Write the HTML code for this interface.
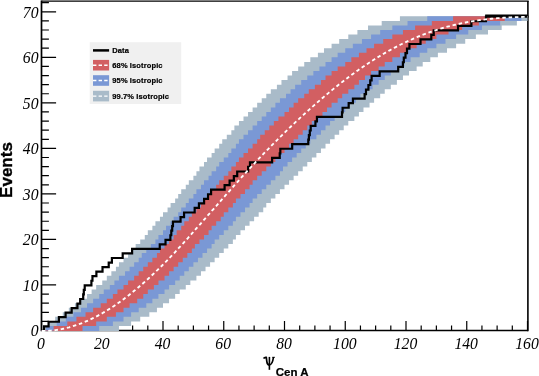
<!DOCTYPE html>
<html><head><meta charset="utf-8"><title>chart</title>
<style>html,body{margin:0;padding:0;background:#fff;}body{width:539px;height:376px;position:relative;overflow:hidden;font-family:"Liberation Sans",sans-serif;}</style></head>
<body>
<svg width="539" height="376" viewBox="0 0 539 376" style="position:absolute;left:0;top:0;will-change:transform;opacity:0.9999">
<rect width="539" height="376" fill="#fff"/>
<g stroke="#000" fill="none">
<path d="M41.50,0.40 V330.50 H527.90" stroke-width="1.70"/>
<path d="M41.50,1.05 H528.70" stroke-width="1.30"/>
<path d="M527.90,1.05 V331.35" stroke-width="1.60"/>
<path d="M41.50,330.50 v-9.50 M56.69,330.50 v-4.90 M71.88,330.50 v-4.90 M87.06,330.50 v-4.90 M102.25,330.50 v-9.50 M117.44,330.50 v-4.90 M132.62,330.50 v-4.90 M147.81,330.50 v-4.90 M163.00,330.50 v-9.50 M178.19,330.50 v-4.90 M193.38,330.50 v-4.90 M208.56,330.50 v-4.90 M223.75,330.50 v-9.50 M238.94,330.50 v-4.90 M254.12,330.50 v-4.90 M269.31,330.50 v-4.90 M284.50,330.50 v-9.50 M299.69,330.50 v-4.90 M314.88,330.50 v-4.90 M330.06,330.50 v-4.90 M345.25,330.50 v-9.50 M360.44,330.50 v-4.90 M375.62,330.50 v-4.90 M390.81,330.50 v-4.90 M406.00,330.50 v-9.50 M421.19,330.50 v-4.90 M436.38,330.50 v-4.90 M451.56,330.50 v-4.90 M466.75,330.50 v-9.50 M481.94,330.50 v-4.90 M497.12,330.50 v-4.90 M512.31,330.50 v-4.90 M527.50,330.50 v-9.50 M41.50,330.50 h14.60 M41.50,321.39 h7.40 M41.50,312.29 h7.40 M41.50,303.18 h7.40 M41.50,294.08 h7.40 M41.50,284.97 h14.60 M41.50,275.87 h7.40 M41.50,266.76 h7.40 M41.50,257.65 h7.40 M41.50,248.55 h7.40 M41.50,239.44 h14.60 M41.50,230.34 h7.40 M41.50,221.23 h7.40 M41.50,212.13 h7.40 M41.50,203.02 h7.40 M41.50,193.91 h14.60 M41.50,184.81 h7.40 M41.50,175.70 h7.40 M41.50,166.60 h7.40 M41.50,157.49 h7.40 M41.50,148.39 h14.60 M41.50,139.28 h7.40 M41.50,130.17 h7.40 M41.50,121.07 h7.40 M41.50,111.96 h7.40 M41.50,102.86 h14.60 M41.50,93.75 h7.40 M41.50,84.65 h7.40 M41.50,75.54 h7.40 M41.50,66.43 h7.40 M41.50,57.33 h14.60 M41.50,48.22 h7.40 M41.50,39.12 h7.40 M41.50,30.01 h7.40 M41.50,20.91 h7.40 M41.50,11.80 h14.60 M41.50,2.69 h7.40 " stroke-width="1.20"/>
</g>
<polygon points="41.50,330.50 43.02,330.50 43.02,325.95 49.09,325.95 49.09,321.39 55.17,321.39 55.17,316.84 62.76,316.84 62.76,312.29 68.84,312.29 68.84,307.74 74.91,307.74 74.91,303.18 80.99,303.18 80.99,298.63 87.06,298.63 87.06,294.08 91.62,294.08 91.62,289.52 96.17,289.52 96.17,284.97 102.25,284.97 102.25,280.42 106.81,280.42 106.81,275.87 111.36,275.87 111.36,271.31 115.92,271.31 115.92,266.76 118.96,266.76 118.96,262.21 123.51,262.21 123.51,257.65 128.07,257.65 128.07,253.10 132.62,253.10 132.62,248.55 135.66,248.55 135.66,244.00 140.22,244.00 140.22,239.44 144.78,239.44 144.78,234.89 147.81,234.89 147.81,230.34 152.37,230.34 152.37,225.78 155.41,225.78 155.41,221.23 159.96,221.23 159.96,216.68 163.00,216.68 163.00,212.13 167.56,212.13 167.56,207.57 170.59,207.57 170.59,203.02 175.15,203.02 175.15,198.47 178.19,198.47 178.19,193.91 181.22,193.91 181.22,189.36 185.78,189.36 185.78,184.81 188.82,184.81 188.82,180.26 193.38,180.26 193.38,175.70 196.41,175.70 196.41,171.15 199.45,171.15 199.45,166.60 204.01,166.60 204.01,162.04 207.04,162.04 207.04,157.49 211.60,157.49 211.60,152.94 214.64,152.94 214.64,148.39 219.19,148.39 219.19,143.83 222.23,143.83 222.23,139.28 226.79,139.28 226.79,134.73 231.34,134.73 231.34,130.17 234.38,130.17 234.38,125.62 238.94,125.62 238.94,121.07 243.49,121.07 243.49,116.52 248.05,116.52 248.05,111.96 252.61,111.96 252.61,107.41 257.16,107.41 257.16,102.86 261.72,102.86 261.72,98.30 266.27,98.30 266.27,93.75 270.83,93.75 270.83,89.20 276.91,89.20 276.91,84.65 281.46,84.65 281.46,80.09 287.54,80.09 287.54,75.54 292.09,75.54 292.09,70.99 298.17,70.99 298.17,66.43 304.24,66.43 304.24,61.88 310.32,61.88 310.32,57.33 317.91,57.33 317.91,52.78 323.99,52.78 323.99,48.22 331.58,48.22 331.58,43.67 339.18,43.67 339.18,39.12 348.29,39.12 348.29,34.56 357.40,34.56 357.40,30.01 368.03,30.01 368.03,25.46 381.70,25.46 381.70,20.91 399.93,20.91 399.93,16.35 527.50,16.35 527.50,20.91 516.87,20.91 516.87,25.46 501.68,25.46 501.68,30.01 488.01,30.01 488.01,34.56 475.86,34.56 475.86,39.12 465.23,39.12 465.23,43.67 456.12,43.67 456.12,48.22 447.01,48.22 447.01,52.78 437.89,52.78 437.89,57.33 430.30,57.33 430.30,61.88 422.71,61.88 422.71,66.43 416.63,66.43 416.63,70.99 409.04,70.99 409.04,75.54 402.96,75.54 402.96,80.09 396.89,80.09 396.89,84.65 390.81,84.65 390.81,89.20 384.74,89.20 384.74,93.75 380.18,93.75 380.18,98.30 374.11,98.30 374.11,102.86 369.55,102.86 369.55,107.41 363.48,107.41 363.48,111.96 358.92,111.96 358.92,116.52 354.36,116.52 354.36,121.07 348.29,121.07 348.29,125.62 343.73,125.62 343.73,130.17 339.18,130.17 339.18,134.73 334.62,134.73 334.62,139.28 330.06,139.28 330.06,143.83 325.51,143.83 325.51,148.39 320.95,148.39 320.95,152.94 316.39,152.94 316.39,157.49 311.84,157.49 311.84,162.04 307.28,162.04 307.28,166.60 302.73,166.60 302.73,171.15 298.17,171.15 298.17,175.70 293.61,175.70 293.61,180.26 289.06,180.26 289.06,184.81 284.50,184.81 284.50,189.36 279.94,189.36 279.94,193.91 275.39,193.91 275.39,198.47 270.83,198.47 270.83,203.02 266.27,203.02 266.27,207.57 263.24,207.57 263.24,212.13 258.68,212.13 258.68,216.68 254.12,216.68 254.12,221.23 249.57,221.23 249.57,225.78 245.01,225.78 245.01,230.34 240.46,230.34 240.46,234.89 235.90,234.89 235.90,239.44 232.86,239.44 232.86,244.00 228.31,244.00 228.31,248.55 223.75,248.55 223.75,253.10 219.19,253.10 219.19,257.65 214.64,257.65 214.64,262.21 210.08,262.21 210.08,266.76 205.53,266.76 205.53,271.31 200.97,271.31 200.97,275.87 196.41,275.87 196.41,280.42 190.34,280.42 190.34,284.97 185.78,284.97 185.78,289.52 179.71,289.52 179.71,294.08 175.15,294.08 175.15,298.63 169.07,298.63 169.07,303.18 163.00,303.18 163.00,307.74 156.93,307.74 156.93,312.29 149.33,312.29 149.33,316.84 140.22,316.84 140.22,321.39 131.11,321.39 131.11,325.95 118.96,325.95 118.96,331.10 41.50,331.10" fill="#a9bbc9"/>
<polygon points="41.50,330.50 46.06,330.50 46.06,325.95 56.69,325.95 56.69,321.39 65.80,321.39 65.80,316.84 73.39,316.84 73.39,312.29 80.99,312.29 80.99,307.74 87.06,307.74 87.06,303.18 93.14,303.18 93.14,298.63 99.21,298.63 99.21,294.08 103.77,294.08 103.77,289.52 109.84,289.52 109.84,284.97 114.40,284.97 114.40,280.42 118.96,280.42 118.96,275.87 125.03,275.87 125.03,271.31 129.59,271.31 129.59,266.76 134.14,266.76 134.14,262.21 138.70,262.21 138.70,257.65 141.74,257.65 141.74,253.10 146.29,253.10 146.29,248.55 150.85,248.55 150.85,244.00 155.41,244.00 155.41,239.44 158.44,239.44 158.44,234.89 163.00,234.89 163.00,230.34 166.04,230.34 166.04,225.78 170.59,225.78 170.59,221.23 173.63,221.23 173.63,216.68 178.19,216.68 178.19,212.13 181.22,212.13 181.22,207.57 185.78,207.57 185.78,203.02 188.82,203.02 188.82,198.47 193.38,198.47 193.38,193.91 196.41,193.91 196.41,189.36 200.97,189.36 200.97,184.81 204.01,184.81 204.01,180.26 208.56,180.26 208.56,175.70 211.60,175.70 211.60,171.15 216.16,171.15 216.16,166.60 219.19,166.60 219.19,162.04 223.75,162.04 223.75,157.49 228.31,157.49 228.31,152.94 231.34,152.94 231.34,148.39 235.90,148.39 235.90,143.83 238.94,143.83 238.94,139.28 243.49,139.28 243.49,134.73 248.05,134.73 248.05,130.17 252.61,130.17 252.61,125.62 257.16,125.62 257.16,121.07 261.72,121.07 261.72,116.52 266.27,116.52 266.27,111.96 270.83,111.96 270.83,107.41 275.39,107.41 275.39,102.86 279.94,102.86 279.94,98.30 286.02,98.30 286.02,93.75 290.57,93.75 290.57,89.20 295.13,89.20 295.13,84.65 301.21,84.65 301.21,80.09 307.28,80.09 307.28,75.54 313.36,75.54 313.36,70.99 319.43,70.99 319.43,66.43 325.51,66.43 325.51,61.88 331.58,61.88 331.58,57.33 337.66,57.33 337.66,52.78 345.25,52.78 345.25,48.22 352.84,48.22 352.84,43.67 361.96,43.67 361.96,39.12 371.07,39.12 371.07,34.56 380.18,34.56 380.18,30.01 392.33,30.01 392.33,25.46 407.52,25.46 407.52,20.91 427.26,20.91 427.26,16.35 521.42,16.35 521.42,20.91 500.16,20.91 500.16,25.46 481.94,25.46 481.94,30.01 468.27,30.01 468.27,34.56 456.12,34.56 456.12,39.12 445.49,39.12 445.49,43.67 436.38,43.67 436.38,48.22 427.26,48.22 427.26,52.78 419.67,52.78 419.67,57.33 410.56,57.33 410.56,61.88 404.48,61.88 404.48,66.43 396.89,66.43 396.89,70.99 390.81,70.99 390.81,75.54 384.74,75.54 384.74,80.09 378.66,80.09 378.66,84.65 372.59,84.65 372.59,89.20 366.51,89.20 366.51,93.75 360.44,93.75 360.44,98.30 355.88,98.30 355.88,102.86 349.81,102.86 349.81,107.41 345.25,107.41 345.25,111.96 340.69,111.96 340.69,116.52 334.62,116.52 334.62,121.07 330.06,121.07 330.06,125.62 325.51,125.62 325.51,130.17 320.95,130.17 320.95,134.73 316.39,134.73 316.39,139.28 310.32,139.28 310.32,143.83 305.76,143.83 305.76,148.39 301.21,148.39 301.21,152.94 296.65,152.94 296.65,157.49 292.09,157.49 292.09,162.04 287.54,162.04 287.54,166.60 282.98,166.60 282.98,171.15 279.94,171.15 279.94,175.70 275.39,175.70 275.39,180.26 270.83,180.26 270.83,184.81 266.27,184.81 266.27,189.36 261.72,189.36 261.72,193.91 257.16,193.91 257.16,198.47 252.61,198.47 252.61,203.02 249.57,203.02 249.57,207.57 245.01,207.57 245.01,212.13 240.46,212.13 240.46,216.68 235.90,216.68 235.90,221.23 232.86,221.23 232.86,225.78 228.31,225.78 228.31,230.34 223.75,230.34 223.75,234.89 219.19,234.89 219.19,239.44 214.64,239.44 214.64,244.00 211.60,244.00 211.60,248.55 207.04,248.55 207.04,253.10 202.49,253.10 202.49,257.65 197.93,257.65 197.93,262.21 193.38,262.21 193.38,266.76 188.82,266.76 188.82,271.31 184.26,271.31 184.26,275.87 179.71,275.87 179.71,280.42 175.15,280.42 175.15,284.97 169.07,284.97 169.07,289.52 164.52,289.52 164.52,294.08 158.44,294.08 158.44,298.63 152.37,298.63 152.37,303.18 146.29,303.18 146.29,307.74 138.70,307.74 138.70,312.29 131.11,312.29 131.11,316.84 123.51,316.84 123.51,321.39 112.88,321.39 112.88,325.95 99.21,325.95 99.21,331.10 41.50,331.10" fill="#7a98d5"/>
<polygon points="41.50,330.50 53.65,330.50 53.65,325.95 67.32,325.95 67.32,321.39 76.43,321.39 76.43,316.84 85.54,316.84 85.54,312.29 93.14,312.29 93.14,307.74 100.73,307.74 100.73,303.18 106.81,303.18 106.81,298.63 112.88,298.63 112.88,294.08 117.44,294.08 117.44,289.52 123.51,289.52 123.51,284.97 128.07,284.97 128.07,280.42 134.14,280.42 134.14,275.87 138.70,275.87 138.70,271.31 143.26,271.31 143.26,266.76 147.81,266.76 147.81,262.21 152.37,262.21 152.37,257.65 156.93,257.65 156.93,253.10 159.96,253.10 159.96,248.55 164.52,248.55 164.52,244.00 169.07,244.00 169.07,239.44 173.63,239.44 173.63,234.89 176.67,234.89 176.67,230.34 181.22,230.34 181.22,225.78 184.26,225.78 184.26,221.23 188.82,221.23 188.82,216.68 191.86,216.68 191.86,212.13 196.41,212.13 196.41,207.57 200.97,207.57 200.97,203.02 204.01,203.02 204.01,198.47 208.56,198.47 208.56,193.91 211.60,193.91 211.60,189.36 216.16,189.36 216.16,184.81 219.19,184.81 219.19,180.26 223.75,180.26 223.75,175.70 228.31,175.70 228.31,171.15 231.34,171.15 231.34,166.60 235.90,166.60 235.90,162.04 238.94,162.04 238.94,157.49 243.49,157.49 243.49,152.94 248.05,152.94 248.05,148.39 252.61,148.39 252.61,143.83 257.16,143.83 257.16,139.28 260.20,139.28 260.20,134.73 264.76,134.73 264.76,130.17 269.31,130.17 269.31,125.62 273.87,125.62 273.87,121.07 278.43,121.07 278.43,116.52 284.50,116.52 284.50,111.96 289.06,111.96 289.06,107.41 293.61,107.41 293.61,102.86 298.17,102.86 298.17,98.30 304.24,98.30 304.24,93.75 308.80,93.75 308.80,89.20 314.88,89.20 314.88,84.65 320.95,84.65 320.95,80.09 325.51,80.09 325.51,75.54 331.58,75.54 331.58,70.99 337.66,70.99 337.66,66.43 345.25,66.43 345.25,61.88 351.32,61.88 351.32,57.33 358.92,57.33 358.92,52.78 366.51,52.78 366.51,48.22 374.11,48.22 374.11,43.67 383.22,43.67 383.22,39.12 392.33,39.12 392.33,34.56 402.96,34.56 402.96,30.01 415.11,30.01 415.11,25.46 431.82,25.46 431.82,20.91 453.08,20.91 453.08,16.35 504.72,16.35 504.72,20.91 478.90,20.91 478.90,25.46 462.19,25.46 462.19,30.01 448.52,30.01 448.52,34.56 436.38,34.56 436.38,39.12 425.74,39.12 425.74,43.67 416.63,43.67 416.63,48.22 407.52,48.22 407.52,52.78 399.93,52.78 399.93,57.33 392.33,57.33 392.33,61.88 384.74,61.88 384.74,66.43 378.66,66.43 378.66,70.99 371.07,70.99 371.07,75.54 364.99,75.54 364.99,80.09 358.92,80.09 358.92,84.65 354.36,84.65 354.36,89.20 348.29,89.20 348.29,93.75 342.21,93.75 342.21,98.30 337.66,98.30 337.66,102.86 331.58,102.86 331.58,107.41 327.02,107.41 327.02,111.96 322.47,111.96 322.47,116.52 316.39,116.52 316.39,121.07 311.84,121.07 311.84,125.62 307.28,125.62 307.28,130.17 302.73,130.17 302.73,134.73 298.17,134.73 298.17,139.28 293.61,139.28 293.61,143.83 289.06,143.83 289.06,148.39 284.50,148.39 284.50,152.94 279.94,152.94 279.94,157.49 275.39,157.49 275.39,162.04 270.83,162.04 270.83,166.60 266.27,166.60 266.27,171.15 261.72,171.15 261.72,175.70 257.16,175.70 257.16,180.26 252.61,180.26 252.61,184.81 249.57,184.81 249.57,189.36 245.01,189.36 245.01,193.91 240.46,193.91 240.46,198.47 235.90,198.47 235.90,203.02 232.86,203.02 232.86,207.57 228.31,207.57 228.31,212.13 223.75,212.13 223.75,216.68 220.71,216.68 220.71,221.23 216.16,221.23 216.16,225.78 211.60,225.78 211.60,230.34 208.56,230.34 208.56,234.89 204.01,234.89 204.01,239.44 199.45,239.44 199.45,244.00 194.89,244.00 194.89,248.55 191.86,248.55 191.86,253.10 187.30,253.10 187.30,257.65 182.74,257.65 182.74,262.21 178.19,262.21 178.19,266.76 173.63,266.76 173.63,271.31 169.07,271.31 169.07,275.87 164.52,275.87 164.52,280.42 158.44,280.42 158.44,284.97 153.89,284.97 153.89,289.52 147.81,289.52 147.81,294.08 143.26,294.08 143.26,298.63 137.18,298.63 137.18,303.18 129.59,303.18 129.59,307.74 123.51,307.74 123.51,312.29 115.92,312.29 115.92,316.84 106.81,316.84 106.81,321.39 96.17,321.39 96.17,325.95 82.51,325.95 82.51,331.10 41.50,331.10" fill="#d25f62"/>
<path d="M43.02,330.50 V325.95 H47.58 V321.39 H57.90 V316.84 H64.59 V312.29 H70.66 V307.74 H76.43 V303.18 H79.17 V298.63 H82.20 V294.08 H82.81 V289.52 H83.72 V284.97 H90.40 V280.42 H91.47 V275.87 H95.39 V271.31 H101.52 V266.76 H107.72 V262.21 H110.91 V257.65 H121.69 V253.10 H131.11 V248.55 H158.75 V244.00 H164.52 V239.44 H169.38 V234.89 H170.29 V230.34 H171.20 V225.78 H171.96 V221.23 H179.55 V216.68 H183.05 V212.13 H193.68 V207.57 H197.93 V203.02 H203.09 V198.47 H207.04 V193.91 H210.08 V189.36 H223.60 V184.81 H228.61 V180.26 H232.86 V175.70 H236.20 V171.15 H247.14 V166.60 H248.96 V162.04 H271.13 V157.49 H278.73 V152.94 H279.34 V148.39 H291.18 V143.83 H307.28 V139.28 H307.89 V134.73 H308.80 V130.17 H309.71 V125.62 H314.42 V121.07 H315.94 V116.52 H341.00 V111.96 H341.60 V107.41 H347.68 V102.86 H351.93 V98.30 H363.63 V93.75 H364.99 V89.20 H367.42 V84.65 H369.25 V80.09 H370.61 V75.54 H378.66 V70.99 H397.19 V66.43 H401.90 V61.88 H402.81 V57.33 H404.48 V52.78 H406.00 V48.22 H408.43 V43.67 H419.52 V39.12 H430.30 V34.56 H432.73 V30.01 H457.03 V25.46 H470.39 V20.91 H484.98 V16.35 H527.50" fill="none" stroke="#000" stroke-width="2.20" stroke-linejoin="miter" transform="translate(1.00,0.35)"/>
<path d="M485.18,15.25 H527.50" stroke="#000" stroke-width="1.3" fill="none"/>
<path d="M41.50,330.50 L43.02,330.49 L44.54,330.45 L46.06,330.40 L47.58,330.32 L49.09,330.21 L50.61,330.09 L52.13,329.93 L53.65,329.76 L55.17,329.57 L56.69,329.35 L58.21,329.11 L59.73,328.85 L61.24,328.56 L62.76,328.25 L64.28,327.91 L65.80,327.56 L67.32,327.18 L68.84,326.79 L70.36,326.36 L71.88,325.92 L73.39,325.45 L74.91,324.96 L76.43,324.46 L77.95,323.92 L79.47,323.37 L80.99,322.79 L82.51,322.20 L84.03,321.57 L85.54,320.94 L87.06,320.28 L88.58,319.59 L90.10,318.89 L91.62,318.17 L93.14,317.42 L94.66,316.66 L96.17,315.88 L97.69,315.07 L99.21,314.24 L100.73,313.40 L102.25,312.53 L103.77,311.64 L105.29,310.74 L106.81,309.81 L108.33,308.87 L109.84,307.91 L111.36,306.93 L112.88,305.93 L114.40,304.92 L115.92,303.88 L117.44,302.82 L118.96,301.75 L120.47,300.66 L121.99,299.54 L123.51,298.42 L125.03,297.28 L126.55,296.12 L128.07,294.96 L129.59,293.76 L131.11,292.55 L132.62,291.32 L134.14,290.08 L135.66,288.84 L137.18,287.55 L138.70,286.25 L140.22,284.98 L141.74,283.64 L143.26,282.30 L144.78,280.98 L146.29,279.59 L147.81,278.24 L149.33,276.82 L150.85,275.44 L152.37,274.00 L153.89,272.60 L155.41,271.12 L156.93,269.69 L158.44,268.18 L159.96,266.70 L161.48,265.25 L163.00,263.67 L164.52,262.16 L166.04,260.68 L167.56,259.05 L169.07,257.47 L170.59,255.91 L172.11,254.36 L173.63,252.82 L175.15,251.05 L176.67,249.36 L178.19,247.70 L179.71,246.07 L181.22,244.42 L182.74,242.79 L184.26,241.14 L185.78,239.48 L187.30,237.81 L188.82,236.14 L190.34,234.43 L191.86,232.72 L193.38,230.95 L194.89,229.08 L196.41,227.43 L197.93,225.76 L199.45,224.07 L200.97,222.32 L202.49,220.54 L204.01,218.87 L205.53,217.16 L207.04,215.37 L208.56,213.69 L210.08,211.98 L211.60,210.23 L213.12,208.53 L214.64,206.76 L216.16,205.08 L217.68,203.31 L219.19,201.63 L220.71,199.87 L222.23,198.19 L223.75,196.44 L225.27,194.73 L226.79,193.02 L228.31,191.27 L229.82,189.59 L231.34,187.87 L232.86,186.14 L234.38,184.46 L235.90,182.75 L237.42,181.06 L238.94,179.34 L240.46,177.64 L241.97,175.99 L243.49,174.31 L245.01,172.64 L246.53,170.97 L248.05,169.32 L249.57,167.67 L251.09,166.04 L252.61,164.41 L254.12,162.79 L255.64,161.18 L257.16,159.57 L258.68,157.98 L260.20,156.39 L261.72,154.81 L263.24,153.22 L264.76,151.65 L266.27,150.09 L267.79,148.54 L269.31,146.99 L270.83,145.45 L272.35,143.90 L273.87,142.38 L275.39,140.86 L276.91,139.34 L278.43,137.84 L279.94,136.34 L281.46,134.83 L282.98,133.35 L284.50,131.87 L286.02,130.39 L287.54,128.93 L289.06,127.46 L290.57,126.00 L292.09,124.56 L293.61,123.12 L295.13,121.69 L296.65,120.26 L298.17,118.84 L299.69,117.43 L301.21,116.03 L302.73,114.63 L304.24,113.24 L305.76,111.86 L307.28,110.49 L308.80,109.12 L310.32,107.75 L311.84,106.41 L313.36,105.07 L314.88,103.73 L316.39,102.40 L317.91,101.09 L319.43,99.78 L320.95,98.47 L322.47,97.18 L323.99,95.89 L325.51,94.61 L327.02,93.34 L328.54,92.09 L330.06,90.84 L331.58,89.59 L333.10,88.36 L334.62,87.14 L336.14,85.92 L337.66,84.71 L339.18,83.51 L340.69,82.33 L342.21,81.15 L343.73,79.98 L345.25,78.81 L346.77,77.66 L348.29,76.52 L349.81,75.39 L351.32,74.27 L352.84,73.17 L354.36,72.07 L355.88,70.98 L357.40,69.89 L358.92,68.83 L360.44,67.77 L361.96,66.73 L363.48,65.69 L364.99,64.67 L366.51,63.66 L368.03,62.66 L369.55,61.66 L371.07,60.69 L372.59,59.72 L374.11,58.76 L375.62,57.82 L377.14,56.88 L378.66,55.96 L380.18,55.05 L381.70,54.15 L383.22,53.25 L384.74,52.38 L386.26,51.51 L387.77,50.65 L389.29,49.82 L390.81,48.98 L392.33,48.16 L393.85,47.35 L395.37,46.56 L396.89,45.77 L398.41,45.00 L399.93,44.24 L401.44,43.48 L402.96,42.74 L404.48,42.01 L406.00,41.30 L407.52,40.59 L409.04,39.90 L410.56,39.22 L412.07,38.55 L413.59,37.89 L415.11,37.24 L416.63,36.60 L418.15,35.98 L419.67,35.37 L421.19,34.76 L422.71,34.17 L424.23,33.59 L425.74,33.03 L427.26,32.46 L428.78,31.92 L430.30,31.38 L431.82,30.86 L433.34,30.35 L434.86,29.84 L436.38,29.35 L437.89,28.87 L439.41,28.40 L440.93,27.94 L442.45,27.49 L443.97,27.06 L445.49,26.63 L447.01,26.21 L448.52,25.80 L450.04,25.40 L451.56,25.02 L453.08,24.64 L454.60,24.27 L456.12,23.92 L457.64,23.57 L459.16,23.23 L460.68,22.91 L462.19,22.59 L463.71,22.28 L465.23,21.98 L466.75,21.69 L468.27,21.41 L469.79,21.14 L471.31,20.88 L472.82,20.62 L474.34,20.37 L475.86,20.14 L477.38,19.91 L478.90,19.69 L480.42,19.48 L481.94,19.28 L483.46,19.09 L484.98,18.90 L486.49,18.72 L488.01,18.55 L489.53,18.38 L491.05,18.23 L492.57,18.08 L494.09,17.94 L495.61,17.80 L497.12,17.68 L498.64,17.56 L500.16,17.44 L501.68,17.33 L503.20,17.23 L504.72,17.14 L506.24,17.05 L507.76,16.97 L509.27,16.89 L510.79,16.82 L512.31,16.75 L513.83,16.70 L515.35,16.64 L516.87,16.59 L518.39,16.55 L519.91,16.51 L521.42,16.47 L522.94,16.44 L524.46,16.42 L525.98,16.40 L527.50,16.38" fill="none" stroke="#fff" stroke-width="1.85" stroke-dasharray="3.5,2.8" transform="translate(0.40,0.50)"/>
<g font-family="Liberation Serif, serif" font-style="italic" font-size="15.7" fill="#000">
<text x="41.0" y="348.7" text-anchor="middle">0</text>
<text x="101.8" y="348.7" text-anchor="middle">20</text>
<text x="162.5" y="348.7" text-anchor="middle">40</text>
<text x="223.2" y="348.7" text-anchor="middle">60</text>
<text x="284.0" y="348.7" text-anchor="middle">80</text>
<text x="344.8" y="348.7" text-anchor="middle">100</text>
<text x="405.5" y="348.7" text-anchor="middle">120</text>
<text x="466.2" y="348.7" text-anchor="middle">140</text>
<text x="527.0" y="348.7" text-anchor="middle">160</text>
<text x="38.5" y="336.4" text-anchor="end">0</text>
<text x="38.5" y="290.9" text-anchor="end">10</text>
<text x="38.5" y="245.3" text-anchor="end">20</text>
<text x="38.5" y="199.8" text-anchor="end">30</text>
<text x="38.5" y="154.3" text-anchor="end">40</text>
<text x="38.5" y="108.8" text-anchor="end">50</text>
<text x="38.5" y="63.2" text-anchor="end">60</text>
<text x="38.5" y="17.7" text-anchor="end">70</text>
</g>
<text transform="translate(12.4,170.0) rotate(-90)" text-anchor="middle" font-family="Liberation Sans, sans-serif" font-weight="bold" font-size="17.0" fill="#000" stroke="#000" stroke-width="0.35">Events</text>
<g fill="none" stroke="#000" stroke-linecap="butt" transform="translate(0.00,0.00)">
<path d="M269.4,356.9 V369.8" stroke-width="1.6"/>
<path d="M263.5,358.6 Q264.6,357.1 266.3,357.4 L266.8,361.3 Q267.2,365.0 269.4,365.0 Q272.4,364.8 273.5,357.0" stroke-width="1.7"/>
<path d="M272.2,357.3 H274.9" stroke-width="0.9"/>
</g>
<text x="275.8" y="376.0" font-family="Liberation Sans, sans-serif" font-weight="bold" font-size="11.5" fill="#000" stroke="#000" stroke-width="0.25">Cen A</text>
<rect x="89.7" y="42.2" width="91.5" height="61.8" fill="#f0f0f0"/>
<path d="M93.0,50.4 h16.1" stroke="#000" stroke-width="2.5"/>
<rect x="93.0" y="59.9" width="16.1" height="10.6" fill="#d25f62"/>
<path d="M93.0,65.2 h16.1" stroke="#fff" stroke-width="1.4" stroke-dasharray="3.4,2.2"/>
<rect x="93.0" y="75.2" width="16.1" height="10.6" fill="#7a98d5"/>
<path d="M93.0,80.5 h16.1" stroke="#fff" stroke-width="1.4" stroke-dasharray="3.4,2.2"/>
<rect x="93.0" y="90.8" width="16.1" height="10.6" fill="#a9bbc9"/>
<path d="M93.0,96.1 h16.1" stroke="#fff" stroke-width="1.4" stroke-dasharray="3.4,2.2"/>
<g font-family="Liberation Sans, sans-serif" font-weight="bold" font-size="7.50" fill="#000" stroke="#000" stroke-width="0.20">
<text x="112.3" y="53.1" letter-spacing="0.12">Data</text>
<text x="112.3" y="67.9" letter-spacing="0.12">68% Isotropic</text>
<text x="112.3" y="83.2" letter-spacing="0.12">95% Isotropic</text>
<text x="112.3" y="98.8" letter-spacing="0.12">99.7% Isotropic</text>
</g>
</svg>
</body></html>
